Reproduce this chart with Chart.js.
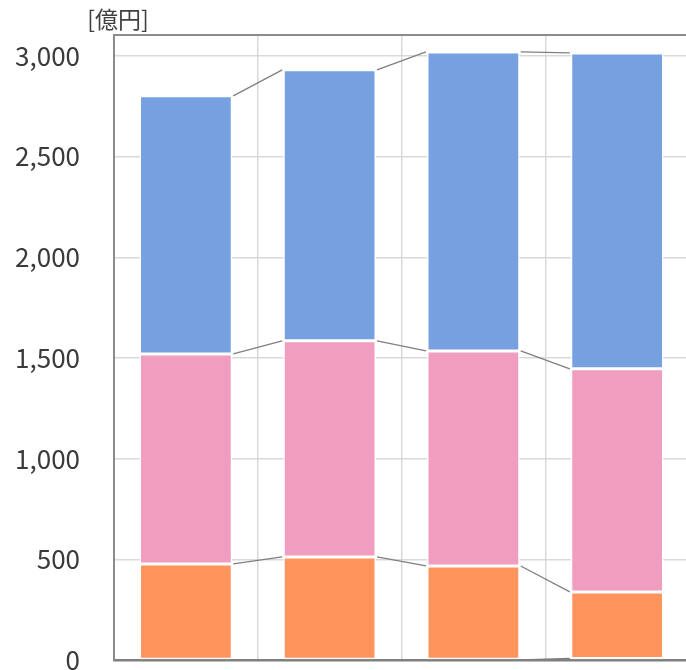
<!DOCTYPE html>
<html lang="ja">
<head>
<meta charset="utf-8">
<script src="https://cdn.jsdelivr.net/npm/chart.js@4/dist/chart.umd.min.js"></script>
<style>
  html, body { margin: 0; padding: 0; background: #fff; overflow: hidden; }
  #wrap { position: relative; width: 700px; height: 670px; }
</style>
</head>
<body>
<div id="wrap"><canvas id="c" width="700" height="670"></canvas></div>
<script>
// Fiscal-year buckets (no labels are printed on the horizontal axis)
const categories = ['1', '2', '3', '4'];

// Stacked segments, bottom to top, in 億円
const seriesYellow = [0, 0, 0, 8];
const seriesOrange = [477, 512, 467, 330];
const seriesPink   = [1043, 1073, 1068, 1108];
const seriesBlue   = [1282, 1346, 1485, 1569];

const yTicks = [0, 500, 1000, 1500, 2000, 2500, 3000];
const unitLabel = '[億円]';

const FONT = '"Noto Sans CJK JP", "Noto Sans", sans-serif';

// Connector lines between the tops of matching segments of neighbouring bars
const seriesLines = {
  id: 'seriesLines',
  afterDatasetsDraw(chart) {
    const ctx = chart.ctx;
    ctx.save();
    ctx.strokeStyle = '#7f7f7f';
    ctx.lineWidth = 1.3;
    chart.data.datasets.forEach((ds, di) => {
      const meta = chart.getDatasetMeta(di);
      for (let i = 0; i < meta.data.length - 1; i++) {
        const a = meta.data[i], b = meta.data[i + 1];
        ctx.beginPath();
        ctx.moveTo(a.x + a.width / 2 + 1, a.y);
        ctx.lineTo(b.x - b.width / 2 - 1, b.y);
        ctx.stroke();
      }
    });
    ctx.restore();
  }
};

// Plot frame (top edge) and the unit caption above the value axis
const frameAndUnit = {
  id: 'frameAndUnit',
  afterDraw(chart) {
    const { ctx, chartArea } = chart;
    ctx.save();
    ctx.strokeStyle = '#8c8c8c';
    ctx.lineWidth = 2;
    ctx.beginPath();
    ctx.moveTo(chartArea.left - 1, chartArea.top);
    ctx.lineTo(chart.width, chartArea.top);
    ctx.stroke();
    ctx.fillStyle = '#404040';
    ctx.font = '23px ' + FONT;
    ctx.textAlign = 'center';
    ctx.textBaseline = 'middle';
    ctx.fillText(unitLabel, 118, 19);
    ctx.restore();
  }
};

const mk = (label, data, color) => ({
  label, data,
  backgroundColor: color,
  borderColor: '#ffffff',
  borderWidth: 1.5,
  borderSkipped: false,
  categoryPercentage: 1.0,
  barPercentage: 0.645
});

new Chart(document.getElementById('c'), {
  type: 'bar',
  data: {
    labels: categories,
    datasets: [
      mk('yellow', seriesYellow, '#FFE2A0'),
      mk('orange', seriesOrange, '#FF955C'),
      mk('pink', seriesPink, '#F09DBF'),
      mk('blue', seriesBlue, '#77A0E0')
    ]
  },
  options: {
    responsive: false,
    animation: false,
    devicePixelRatio: 1,
    layout: { padding: { top: 35, right: 11, bottom: 10, left: 0 } },
    plugins: { legend: { display: false }, tooltip: { enabled: false } },
    scales: {
      x: {
        stacked: true,
        offset: true,
        afterFit(scale) {
          scale.height = 0;
          scale.paddingLeft = 0; scale.paddingRight = 0;
        },
        grid: { offset: true, color: '#d9d9d9', lineWidth: 1.5, drawTicks: false },
        border: { display: true, color: '#7f7f7f', width: 2.5 },
        ticks: { display: false }
      },
      y: {
        stacked: true,
        min: 0,
        max: 3104,
        afterBuildTicks(scale) {
          scale.ticks = yTicks.map(v => ({ value: v }));
        },
        afterFit(scale) {
          scale.width = 114;
          scale.paddingTop = 0; scale.paddingBottom = 0;
        },
        grid: { color: '#d9d9d9', lineWidth: 1.5, drawTicks: false },
        border: { display: true, color: '#8c8c8c', width: 2 },
        ticks: {
          padding: 34,
          color: '#3a3a3a',
          font: { family: FONT, size: 26 },
          callback: v => v.toLocaleString('en-US')
        }
      }
    }
  },
  plugins: [seriesLines, frameAndUnit]
});
</script>
</body>
</html>
